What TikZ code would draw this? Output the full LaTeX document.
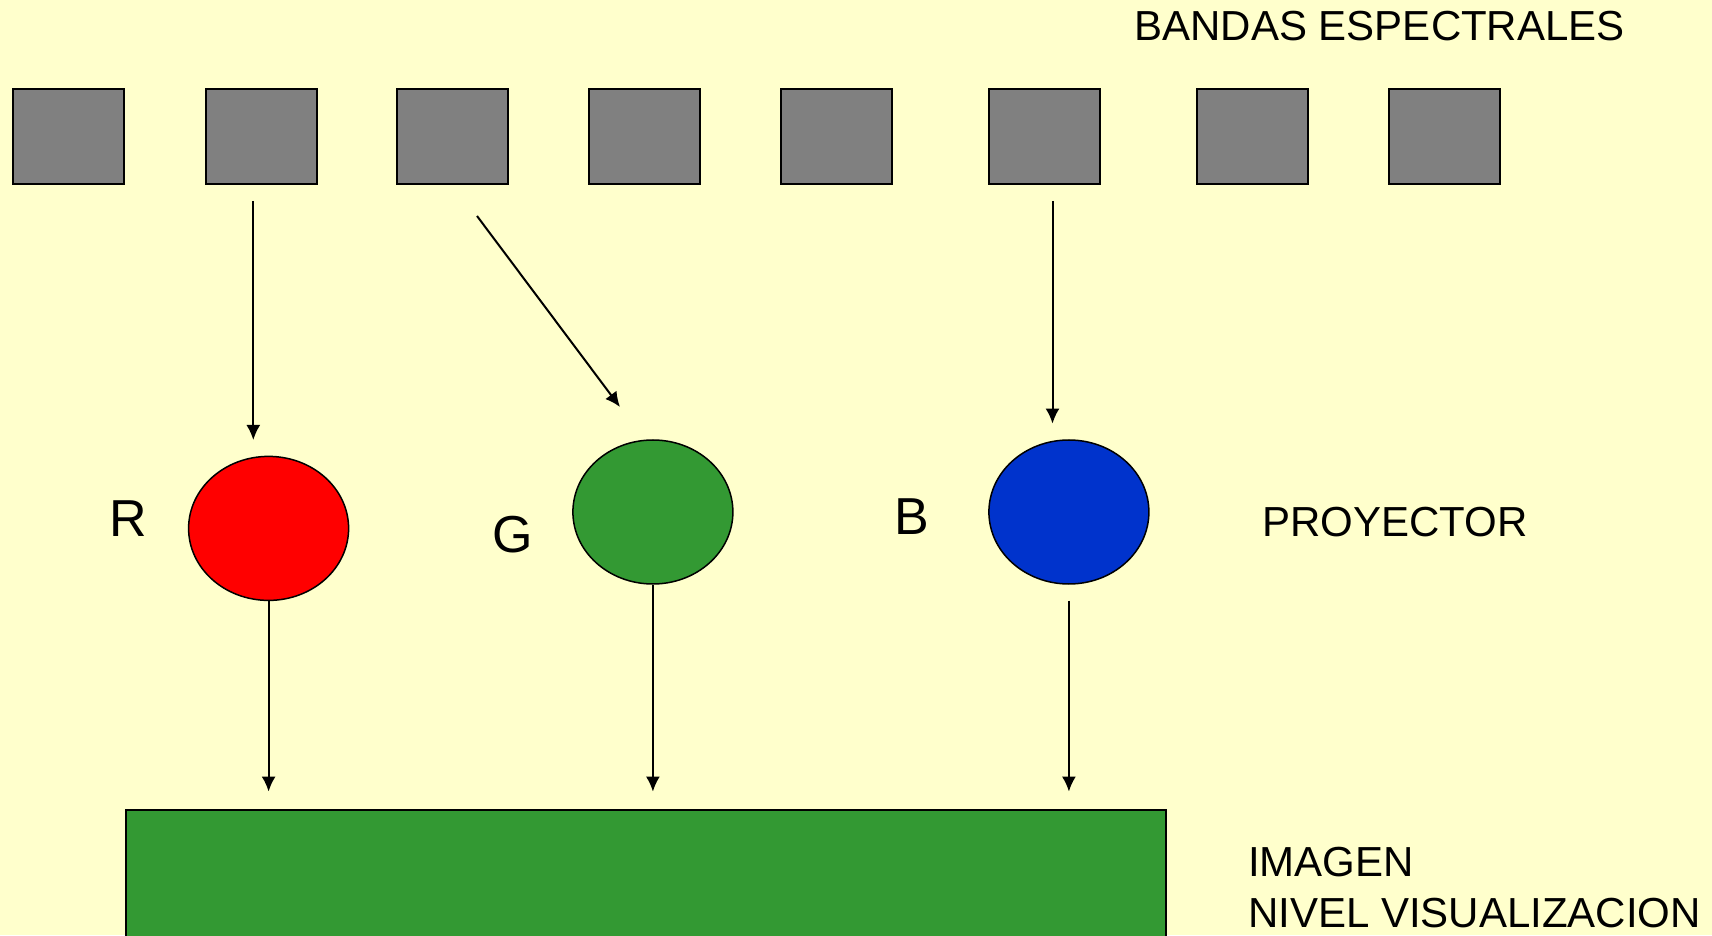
\documentclass[tikz,border=0pt]{standalone}
\usepackage{fontspec}
\setmainfont{Liberation Sans}
\usetikzlibrary{arrows.meta,shapes.geometric}
\definecolor{bgyellow}{HTML}{FFFFCC}
\definecolor{bandgray}{HTML}{808080}
\definecolor{pred}{HTML}{FF0000}
\definecolor{pgreen}{HTML}{339933}
\definecolor{pblue}{HTML}{0033CC}
\begin{document}
\begin{tikzpicture}[x=1pt,y=1pt,
  band/.style={draw=black,line width=2pt,fill=bandgray,minimum width=111pt,minimum height=95pt,inner sep=0pt},
  proj/.style={draw=black,line width=1.5pt,ellipse,minimum width=160pt,minimum height=144pt,inner sep=0pt},
  lbl/.style={font=\fontsize{42}{50}\selectfont,inner sep=0pt,text=black},
  big/.style={font=\fontsize{52}{60}\selectfont,inner sep=0pt,text=black},
  conn/.style={line width=2pt,-{Latex[length=15pt,width=14pt]}}]
\useasboundingbox (0,0) rectangle (1712,935);
\fill[bgyellow] (0,0) rectangle (1712,935);
\begin{scope}
\clip (0,0) rectangle (1712,935);
\node[draw=black,line width=2pt,fill=pgreen,minimum width=1040.5pt,minimum height=150pt,inner sep=0pt,anchor=north west] (img) at (124.5,126) {};
\end{scope}
% bands
\node[band] (b1) at (68.75,798) {};
\node[band] (b2) at (261,798) {};
\node[band] (b3) at (452.5,798) {};
\node[band] (b4) at (644.75,798) {};
\node[band] (b5) at (836.8,798) {};
\node[band] (b6) at (1044.25,798) {};
\node[band] (b7) at (1252.8,798) {};
\node[band] (b8) at (1444.9,798) {};
% projectors
\node[proj,fill=pred] (R) at (268.6,406.6) {};
\node[proj,fill=pgreen] (G) at (652.9,423) {};
\node[proj,fill=pblue] (B) at (1068.9,423) {};
% labels
\node[lbl,anchor=base west] (tband) at (1134.4,894) {BANDAS ESPECTRALES};
\node[lbl,anchor=base west] (tproj) at (1262,398) {PROYECTOR};
\node[lbl,anchor=base west] (timg) at (1248,58.6) {IMAGEN};
\node[lbl,anchor=base west] (tniv) at (1248,7.3) {NIVEL VISUALIZACION};
\node[big,anchor=base] (lR) at (128,398) {R};
\node[big,anchor=base] (lG) at (513,382) {G};
\node[big,anchor=base] (lB) at (912,400) {B};
% connector endpoints
\coordinate (s1) at (253.3,734);
\coordinate (e1) at (253.3,495);
\coordinate (s2) at (477,719);
\coordinate (e2) at (620,528);
\coordinate (s3) at (1052.5,734);
\coordinate (e3) at (1052.5,511.4);
\coordinate (sB) at (1068.9,334.5);
\coordinate (iR) at (268.6,143.4);
\coordinate (iG) at (652.9,143.4);
\coordinate (iB) at (1068.9,143.4);
\draw[conn] (s1) -- (e1);
\draw[conn] (s2) -- (e2);
\draw[conn] (s3) -- (e3);
\draw[conn] (R.south) -- (iR);
\draw[conn] (G.south) -- (iG);
\draw[conn] (sB) -- (iB);
\end{tikzpicture}
\end{document}
